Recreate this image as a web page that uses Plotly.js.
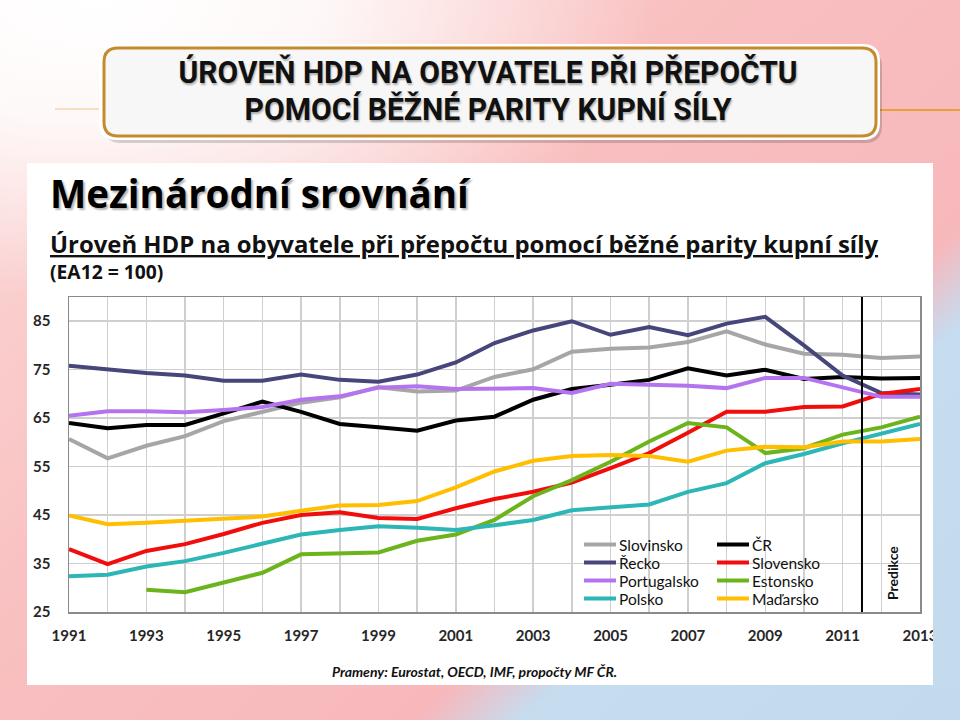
<!DOCTYPE html>
<html>
<head>
<meta charset="utf-8">
<script src="https://cdn.plot.ly/plotly-3.0.1.min.js"></script>
<style>
  html, body { margin: 0; padding: 0; }
  body {
    width: 960px; height: 720px; overflow: hidden;
    background:
      radial-gradient(ellipse 560px 300px at 10% 0%, rgba(255,255,255,1) 0%, rgba(255,255,255,0.85) 40%, rgba(255,255,255,0) 100%),
      linear-gradient(138deg, #fcdada 0%, #f9c0c0 40%, #f7b8bc 69%, #c6dcef 75%, #c3daee 100%);
  }
  #chart { width: 960px; height: 720px; }
</style>
</head>
<body>
<div id="chart"></div>
<script>
// ---------- DATA ----------
const years = [1991,1992,1993,1994,1995,1996,1997,1998,1999,2000,2001,2002,2003,2004,2005,2006,2007,2008,2009,2010,2011,2012,2013];
const slovinsko   = [60.7,56.7,59.3,61.3,64.4,66.2,68.2,69.3,71.4,70.5,70.7,73.5,75.1,78.7,79.3,79.6,80.7,82.9,80.2,78.3,78.1,77.4,77.7];
const cr          = [64.0,62.9,63.6,63.6,66.0,68.4,66.3,63.8,63.1,62.4,64.5,65.3,68.8,71.0,71.9,72.9,75.3,73.8,75.0,73.1,73.5,73.2,73.3];
const recko       = [75.8,75.0,74.3,73.8,72.7,72.7,74.0,72.9,72.5,74.0,76.5,80.5,83.1,85.0,82.2,83.8,82.1,84.5,85.9,80.0,73.8,70.2,69.9];
const slovensko   = [38.0,34.9,37.6,39.0,41.1,43.4,45.0,45.6,44.4,44.2,46.4,48.3,49.8,51.7,54.7,57.8,62.0,66.3,66.3,67.3,67.4,70.0,71.0];
const portugalsko = [65.5,66.4,66.4,66.2,66.7,67.3,68.8,69.5,71.3,71.6,71.0,71.1,71.2,70.2,72.1,71.9,71.7,71.2,73.3,73.3,71.3,69.4,69.4];
const estonsko    = [null,null,29.6,29.1,31.1,33.1,36.9,37.2,37.3,39.7,41.0,44.0,48.9,52.2,56.0,60.2,64.0,63.1,57.8,58.8,61.6,63.1,65.3];
const polsko      = [32.4,32.7,34.4,35.5,37.2,39.1,41.0,41.9,42.7,42.4,41.9,42.9,44.0,46.0,46.6,47.2,49.8,51.6,55.7,57.6,59.8,61.8,63.8];
const madarsko    = [44.9,43.1,43.4,43.8,44.4,44.7,45.9,47.0,47.1,47.9,50.7,54.0,56.2,57.2,57.4,57.2,56.0,58.3,59.1,59.0,60.2,60.2,60.7];

const seriesNames  = ['Slovinsko','ČR','Řecko','Slovensko','Portugalsko','Estonsko','Polsko','Maďarsko'];
const seriesValues = [slovinsko, cr, recko, slovensko, portugalsko, estonsko, polsko, madarsko];
const seriesColors = ['#a6a6a6','#000000','#46467a','#f20d0d','#b474f0','#6cb41c','#2db6b6','#ffbf00'];

const yTickVals = [25,35,45,55,65,75,85];
const xTickText = ['1991','','1993','','1995','','1997','','1999','','2001','','2003','','2005','','2007','','2009','','2011','','2013'];
const predictionStart = 2011.5;

const mainTitle1 = 'ÚROVEŇ HDP NA OBYVATELE PŘI PŘEPOČTU';
const mainTitle2 = 'POMOCÍ BĚŽNÉ PARITY KUPNÍ SÍLY';
const chartTitle = 'Mezinárodní srovnání';
const chartSubtitle = 'Úroveň HDP na obyvatele při přepočtu pomocí běžné parity kupní síly';
const chartUnit = '(EA12 = 100)';
const sourceText = 'Prameny: Eurostat, OECD, IMF, propočty MF ČR.';
const predictionLabel = 'Predikce';

// ---------- LAYOUT HELPERS (pixel -> paper) ----------
const W = 960, H = 720;
const ML = 69, MR = 40, MT = 297, MB = 108;
const PW = W - ML - MR, PH = H - MT - MB;
const X = px => (px - ML) / PW;
const Y = py => (H - MB - py) / PH;

function rr(x0, y0, x1, y1, r) {
  const p = (x, y) => X(x).toFixed(5) + ',' + Y(y).toFixed(5);
  return 'M' + p(x0 + r, y0) + ' L' + p(x1 - r, y0) + ' Q' + p(x1, y0) + ' ' + p(x1, y0 + r) +
         ' L' + p(x1, y1 - r) + ' Q' + p(x1, y1) + ' ' + p(x1 - r, y1) +
         ' L' + p(x0 + r, y1) + ' Q' + p(x0, y1) + ' ' + p(x0, y1 - r) +
         ' L' + p(x0, y0 + r) + ' Q' + p(x0, y0) + ' ' + p(x0 + r, y0) + ' Z';
}

// ---------- TRACES ----------
const traces = seriesNames.map((name, i) => ({
  type: 'scatter', mode: 'lines', name: name,
  x: years, y: seriesValues[i],
  line: { color: seriesColors[i], width: 4 },
  connectgaps: false, hoverinfo: 'skip'
}));

// ---------- SHAPES ----------
const shapes = [
  { type: 'rect', xref: 'paper', yref: 'paper', x0: X(27), x1: X(933), y0: Y(163), y1: Y(685),
    fillcolor: '#ffffff', line: { width: 0 }, layer: 'below' },
  { type: 'line', xref: 'paper', yref: 'paper', x0: X(877), x1: X(960), y0: Y(110), y1: Y(110),
    line: { color: '#e6a234', width: 2 }, layer: 'below' },
  { type: 'line', xref: 'paper', yref: 'paper', x0: X(55), x1: X(103), y0: Y(109), y1: Y(109),
    line: { color: 'rgba(236,190,120,0.45)', width: 2 }, layer: 'below' },
  { type: 'path', xref: 'paper', yref: 'paper', path: rr(104, 50, 882, 143, 17),
    fillcolor: 'rgba(0,0,0,0.16)', line: { width: 0 }, layer: 'below' },
  { type: 'path', xref: 'paper', yref: 'paper', path: rr(99, 44, 880, 140, 17),
    fillcolor: '#ffffff', line: { width: 0 }, layer: 'below' },
  { type: 'path', xref: 'paper', yref: 'paper', path: rr(104, 48, 876, 136, 14),
    fillcolor: '#f7f7f7', line: { color: '#c48b2c', width: 3 }, layer: 'below' },
  { type: 'line', xref: 'x', yref: 'paper', x0: predictionStart, x1: predictionStart, y0: 0, y1: 1,
    line: { color: '#000000', width: 2 } },
  { type: 'rect', xref: 'paper', yref: 'paper', x0: X(933), x1: X(962), y0: Y(614), y1: Y(690),
    fillcolor: '#c4dbee', line: { width: 0 }, layer: 'above' }
];

// ---------- ANNOTATIONS ----------
const F = 'Lato, "Open Sans", sans-serif';
const FO = '"Open Sans", Lato, sans-serif';
const FT = 'Roboto, "Liberation Sans", sans-serif';
const TITLE_SIZE = 31, TITLE_LEAD = 37;
const annotations = [
  { text: mainTitle1 + '<br>' + mainTitle2, xref: 'paper', yref: 'paper', x: X(488), y: Y(72 + TITLE_SIZE * 0.65), xanchor: 'center', yanchor: 'middle', showarrow: false,
    font: { family: FT, size: TITLE_SIZE, weight: 'bold', color: '#111111', shadow: '1px 2px 2px rgba(0,0,0,0.3)' } },
  { text: chartTitle, xref: 'paper', yref: 'paper', x: X(48), y: Y(193), xanchor: 'left', yanchor: 'middle', showarrow: false,
    font: { family: FO, size: 38.5, weight: 'bold', color: '#000000', shadow: '2px 2px 2px rgba(0,0,0,0.3)' } },
  { text: '<u>' + chartSubtitle + '</u>', xref: 'paper', yref: 'paper', x: X(48), y: Y(244), xanchor: 'left', yanchor: 'middle', showarrow: false,
    font: { family: FO, size: 23.9, weight: 'bold', color: '#111111' } },
  { text: chartUnit, xref: 'paper', yref: 'paper', x: X(48), y: Y(271), xanchor: 'left', yanchor: 'middle', showarrow: false,
    font: { family: FO, size: 19.3, weight: 'bold', color: '#111111' } },
  { text: sourceText, xref: 'paper', yref: 'paper', x: X(474), y: Y(671), xanchor: 'center', yanchor: 'middle', showarrow: false,
    font: { family: F, size: 14, weight: 'bold', style: 'italic', color: '#111111' } },
  { text: predictionLabel, xref: 'paper', yref: 'paper', x: X(892), y: Y(573), xanchor: 'center', yanchor: 'middle', showarrow: false,
    textangle: -90, font: { family: F, size: 14, weight: 'bold', color: '#111111' } }
];

// ---------- MANUAL LEGEND (2 columns, row-major) ----------
const legCols = [584, 717];
const legRow0 = 544.5, legRowGap = 18, legLineLen = 32;
seriesNames.forEach((name, i) => {
  const col = i % 2, row = Math.floor(i / 2);
  const lx = legCols[col], ly = legRow0 + row * legRowGap;
  shapes.push({ type: 'line', xref: 'paper', yref: 'paper', x0: X(lx), x1: X(lx + legLineLen), y0: Y(ly), y1: Y(ly),
    line: { color: seriesColors[i], width: 4 } });
  annotations.push({ text: name, xref: 'paper', yref: 'paper', x: X(lx + legLineLen + 1), y: Y(ly), xanchor: 'left', yanchor: 'middle',
    showarrow: false, font: { family: F, size: 15.5, color: '#111111' } });
});

const axisFont = { family: F, size: 15, weight: 'bold', color: '#262626' };
const layout = {
  width: W, height: H,
  margin: { l: ML, r: MR, t: MT, b: MB, pad: 0 },
  paper_bgcolor: 'rgba(0,0,0,0)',
  plot_bgcolor: '#ffffff',
  showlegend: false,
  hovermode: false,
  xaxis: {
    range: [1991, 2013], tickmode: 'array', tickvals: years, ticktext: xTickText,
    showgrid: true, gridcolor: '#cfcfcf', gridwidth: 1.5,
    showline: true, mirror: true, linecolor: '#8a8a8a', linewidth: 1.5,
    ticks: 'outside', ticklen: 9, tickcolor: 'rgba(0,0,0,0)',
    tickfont: axisFont, zeroline: false, fixedrange: true
  },
  yaxis: {
    range: [25, 90], tickmode: 'array', tickvals: yTickVals,
    showgrid: true, gridcolor: '#cfcfcf', gridwidth: 1.5,
    showline: true, mirror: true, linecolor: '#8a8a8a', linewidth: 1.5,
    ticks: 'outside', ticklen: 14, tickcolor: 'rgba(0,0,0,0)',
    tickfont: axisFont, zeroline: false, fixedrange: true
  },
  shapes: shapes,
  annotations: annotations
};

Plotly.newPlot('chart', traces, layout, { displayModeBar: false, staticPlot: true }).then(() => {
  // condense the two-line slide heading to the narrow original typeface
  const widths = [619, 487];
  document.querySelectorAll('#chart .annotation-text').forEach(t => {
    if (t.textContent.indexOf('ÚROVEŇ') !== 0) return;
    const lines = t.querySelectorAll('tspan.line');
    lines.forEach((ln, k) => {
      if (widths[k]) {
        ln.setAttribute('textLength', widths[k]);
        ln.setAttribute('lengthAdjust', 'spacingAndGlyphs');
      }
      if (k > 0) ln.setAttribute('dy', (TITLE_LEAD / TITLE_SIZE).toFixed(3) + 'em');
    });
  });
});
</script>
</body>
</html>
